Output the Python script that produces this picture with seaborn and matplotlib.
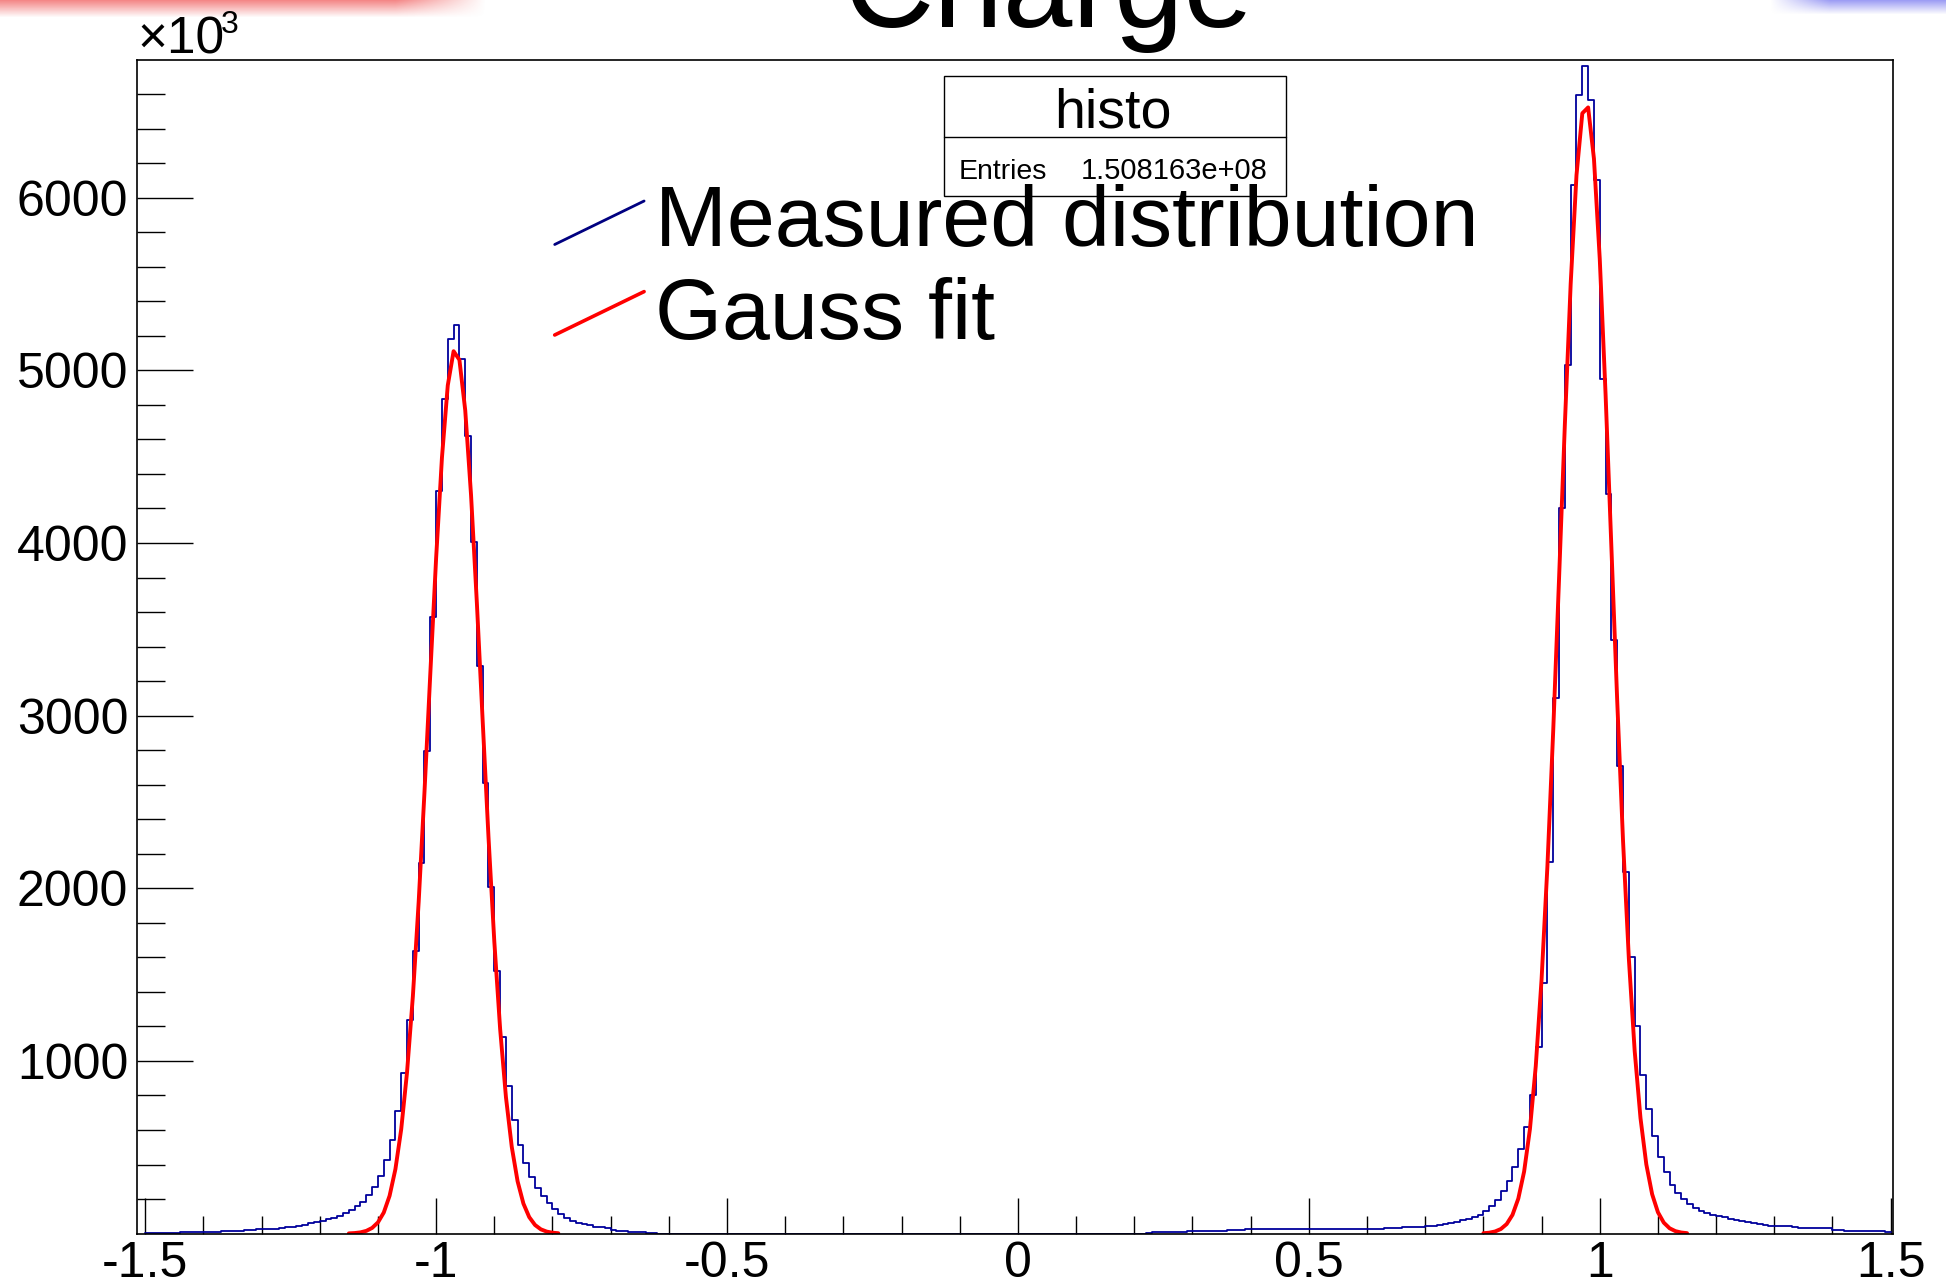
import numpy as np
import pandas as pd
import seaborn as sns
import matplotlib
matplotlib.use("Agg")
import matplotlib.pyplot as plt
from matplotlib.lines import Line2D
from matplotlib.patches import Rectangle

# ---------------- data (values in thousands of entries) ----------------
bin_low, bin_high, n_bins = -1.5, 1.5, 300          # histogram binning (width 0.01)

left_first_edge = -1.50                             # first filled bin, negative peak
left_counts = [3, 4, 5, 5, 6, 6, 7, 7, 8, 8,
               9, 10, 12, 14, 15, 16, 17, 18, 20, 24,
               26, 27, 29, 31, 36, 40, 44, 52, 60, 68,
               74, 82, 92, 104, 120, 135, 158, 185, 222, 270,
               336, 425, 544, 709, 930, 1239, 1639, 2146, 2797, 3569,
               4302, 4836, 5180, 5263, 5064, 4620, 4003, 3289, 2609, 2005,
               1519, 1137, 857, 660, 511, 409, 330, 264, 216, 176,
               143, 116, 91, 75, 64, 56, 48, 40, 36, 30,
               22, 17, 15, 12, 9, 8, 6, 4]

right_first_edge = 0.22                             # first filled bin, positive peak
right_counts = [5, 7, 8, 8, 8, 8, 9,
                15, 16, 16, 17, 17, 17, 17, 18, 18, 18,
                25, 26, 26, 27, 27, 27, 27, 27, 27, 27, 27, 27, 27,
                27, 27, 27, 27, 27, 28, 28, 28, 28, 28, 29, 30, 31,
                35, 36, 37, 38, 39,
                42, 46, 51, 56, 62, 69, 77, 86, 97, 110,
                132, 160, 195, 244, 302, 386, 490, 617,
                801, 1080, 1450, 2150, 3100, 4200, 5029, 6071, 6594, 6762,
                6565, 6100, 4950, 4282, 3440, 2709, 2092, 1600, 1200, 920,
                722, 563, 445, 356, 283, 235, 200, 172, 150, 133,
                120, 110, 102, 94, 86, 79, 72, 66, 60, 55,
                50, 46, 44, 42, 42, 41,
                31, 31, 31, 31, 31, 30,
                18, 18, 17, 17, 17, 17, 17, 16, 16,
                8]

fit_left_start, fit_left_stop = -1.15, -0.79
fit_left = [1.3, 3.2, 7.2, 15.8, 32.8, 64.9, 122, 219, 373, 605,
            935, 1374, 1922, 2560, 3245, 3914, 4495, 4913, 5111, 5061,
            4769, 4278, 3653, 2969, 2296, 1691, 1185, 790, 502, 303,
            174, 95.5, 49.8, 24.7, 11.6, 5.2, 2.2]
fit_right_start, fit_right_stop = 0.80, 1.15
fit_right = [2.2, 5.3, 12.2, 26.6, 55.2, 108.5, 202.8, 359.8, 606, 970,
             1474, 2127, 2914, 3792, 4687, 5501, 6131, 6489, 6523, 6226,
             5645, 4860, 3973, 3084, 2274, 1592, 1058, 669, 401, 228.3,
             123.5, 63.5, 30.9, 14.3, 6.3, 2.6]

x_major = [-1.5, -1.0, -0.5, 0.0, 0.5, 1.0, 1.5]
x_major_labels = ["-1.5", "-1", "-0.5", "0", "0.5", "1", "1.5"]
y_major = [1000, 2000, 3000, 4000, 5000, 6000]
y_major_labels = ["1000", "2000", "3000", "4000", "5000", "6000"]

title_text = "Charge"
stats_title = "histo"
stats_label = "Entries"
stats_value = "1.508163e+08"
legend_labels = ["Measured distribution", "Gauss fit"]

# ---------------- build tables ----------------
width = (bin_high - bin_low) / n_bins
edges = np.linspace(bin_low, bin_high, n_bins + 1)
centers = (edges[:-1] + edges[1:]) / 2
counts = np.zeros(n_bins)
i0 = int(round((left_first_edge - bin_low) / width))
counts[i0:i0 + len(left_counts)] = left_counts
i1 = int(round((right_first_edge - bin_low) / width))
counts[i1:i1 + len(right_counts)] = right_counts
hist_df = pd.DataFrame({"charge": centers, "entries": counts})

fl_x = np.linspace(fit_left_start, fit_left_stop, len(fit_left))
fr_x = np.linspace(fit_right_start, fit_right_stop, len(fit_right))

# ---------------- style ----------------
sns.set_theme(style="ticks")
plt.rcParams["font.family"] = ["Liberation Sans", "DejaVu Sans"]
plt.rcParams["axes.unicode_minus"] = False
plt.rcParams["text.color"] = "black"
plt.rcParams["xtick.color"] = "black"
plt.rcParams["ytick.color"] = "black"
plt.rcParams["xtick.labelcolor"] = "black"
plt.rcParams["ytick.labelcolor"] = "black"

W, H = 1946, 1287
fig = plt.figure(figsize=(W / 100, H / 100), dpi=100, facecolor="white")


def fx(px):
    return px / W


def fy(py):
    return 1 - py / H


# slide-background decorations at the very top
bg1 = fig.add_axes([0, fy(18), fx(485), 18 / H], zorder=0)
g = np.zeros((18, 485, 4))
g[..., 0], g[..., 1], g[..., 2] = 0.95, 0.45, 0.45
va = np.linspace(0.85, 0.0, 18)[:, None]
ha = np.clip((485 - np.arange(485)) / 90.0, 0, 1)[None, :]
g[..., 3] = va * ha
bg1.imshow(g, aspect="auto", interpolation="bilinear")
bg1.axis("off")

bg2 = fig.add_axes([fx(1770), fy(15), fx(W) - fx(1770), 15 / H], zorder=0)
b = np.zeros((15, 176, 4))
b[..., 0], b[..., 1], b[..., 2] = 0.55, 0.55, 0.95
va2 = np.linspace(0.85, 0.0, 15)[:, None]
ha2 = np.clip(np.arange(176) / 60.0, 0, 1)[None, :]
b[..., 3] = va2 * ha2
bg2.imshow(b, aspect="auto", interpolation="bilinear")
bg2.axis("off")

ax = fig.add_axes([fx(136.5), fy(1233.6), fx(1893) - fx(136.5), (1233.6 - 59.6) / H], zorder=2)
ax.set_facecolor("none")

sns.histplot(data=hist_df, x="charge", weights="entries", bins=n_bins,
             binrange=(bin_low, bin_high), element="step", fill=False,
             color="#00009C", linewidth=1.3, ax=ax)
sns.lineplot(x=fl_x, y=fit_left, color="#FF0000", linewidth=2.8, ax=ax,
             estimator=None, sort=False)
sns.lineplot(x=fr_x, y=fit_right, color="#FF0000", linewidth=2.8, ax=ax,
             estimator=None, sort=False)

ax.set_xlim(-1.515, 1.504)
ax.set_ylim(0, 6800)
ax.set_xlabel("")
ax.set_ylabel("")

ax.set_xticks(x_major)
ax.set_xticklabels(x_major_labels)
ax.set_xticks(np.round(np.arange(-15, 16) / 10, 2), minor=True)
ax.set_yticks(y_major)
ax.set_yticklabels(y_major_labels)
ax.set_yticks(np.arange(200, 6800, 200), minor=True)

ax.tick_params(axis="x", which="major", direction="in", length=26, width=1.0,
               pad=5, labelsize=36, colors="black", bottom=True, top=False)
ax.tick_params(axis="x", which="minor", direction="in", length=13, width=1.0,
               colors="black", bottom=True, top=False)
ax.tick_params(axis="y", which="major", direction="in", length=40, width=1.0,
               pad=6, labelsize=36, colors="black", left=True, right=False)
ax.tick_params(axis="y", which="minor", direction="in", length=20, width=1.0,
               colors="black", left=True, right=False)
for s in ax.spines.values():
    s.set_visible(True)
    s.set_color("black")
    s.set_linewidth(1.2)

# title (partly cut by the top edge, as in the reference)
fig.text(fx(1049), fy(27), title_text, ha="center", va="baseline", fontsize=90,
         color="black", zorder=5)

# x10^3 multiplier
fig.text(fx(137), fy(54), "\u00d710", ha="left", va="baseline", fontsize=37,
         color="black", zorder=5)
fig.text(fx(221), fy(33), "3", ha="left", va="baseline", fontsize=23,
         color="black", zorder=5)

# stats box
fig.add_artist(Rectangle((fx(944), fy(196)), fx(1286) - fx(944), (196 - 76) / H,
                         transform=fig.transFigure, facecolor="white",
                         edgecolor="black", linewidth=1.0, zorder=4))
fig.add_artist(Line2D([fx(944), fx(1286)], [fy(136.5), fy(136.5)],
                      transform=fig.transFigure, color="black", linewidth=1.0, zorder=4))
fig.text(fx(1113), fy(127.8), stats_title, ha="center", va="baseline", fontsize=40,
         color="black", zorder=5)
fig.text(fx(959), fy(178.7), stats_label, ha="left", va="baseline", fontsize=20.5,
         color="black", zorder=5)
fig.text(fx(1268), fy(178.7), stats_value, ha="right", va="baseline", fontsize=21,
         color="black", zorder=5)

# legend (slanted key lines)
fig.add_artist(Line2D([fx(554.7), fx(644.1)], [fy(244.5), fy(201)],
                      transform=fig.transFigure, color="#000080", linewidth=2.0, zorder=6))
fig.add_artist(Line2D([fx(554.7), fx(644.1)], [fy(335), fy(291.6)],
                      transform=fig.transFigure, color="#FF0000", linewidth=2.6, zorder=6))
fig.text(fx(655), fy(245.7), legend_labels[0], ha="left", va="baseline", fontsize=62,
         color="black", zorder=6)
fig.text(fx(655), fy(338.8), legend_labels[1], ha="left", va="baseline", fontsize=62,
         color="black", zorder=6)

fig.savefig("out.png", dpi=100, facecolor="white")
